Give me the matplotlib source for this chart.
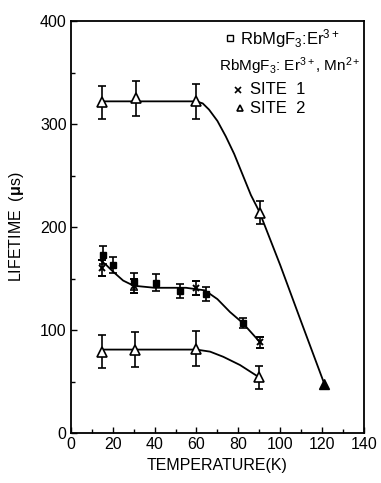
import numpy as np
import matplotlib
matplotlib.use('Agg')
import matplotlib.pyplot as plt

plt.rcParams['font.family'] = ['Liberation Sans', 'DejaVu Sans']
plt.rcParams['mathtext.fontset'] = 'custom'
plt.rcParams['mathtext.rm'] = 'Liberation Sans'
plt.rcParams['mathtext.it'] = 'Liberation Sans:italic'
plt.rcParams['mathtext.bf'] = 'Liberation Sans:bold'

# RbMgF3:Er3+ (squares)
er_T = [15.5, 20.3, 30.3, 40.5, 52.2, 64.6, 82]
er_tau = [173, 163, 147, 146, 138, 135, 107]
er_err = [9, 8, 8, 8, 7, 7, 5]

# RbMgF3:Er3+,Mn2+ site 1 (crosses)
s1_T = [15, 30, 60, 90.4]
s1_tau = [160, 143, 141, 88]
s1_err = [8, 7, 7, 5]

# RbMgF3:Er3+,Mn2+ site 2, long-lived branch (triangles)
s2a_T = [15, 31, 60, 90.5, 121]
s2a_tau = [321, 325, 322, 214, 48]
s2a_err = [16, 17, 17, 11, 0]

# site 2, short-lived branch
s2b_T = [15, 30.5, 60, 90]
s2b_tau = [79, 81, 82, 54]
s2b_err = [16, 17, 17, 11]

# hand-drawn guide curves
fit1_T = [14, 17, 20, 25, 30, 40, 55, 64, 70, 76, 82, 90.4]
fit1_tau = [168, 163, 157, 148, 143, 141, 141, 138.5, 130, 117.5, 107, 88]
fit2a_T = [15, 60, 63, 66, 70, 74, 78, 82, 86, 90, 100, 110, 121]
fit2a_tau = [322, 322, 320, 314, 303, 288, 271, 251, 231, 215, 163, 108, 48]
fit2b_T = [15, 60, 66.5, 72.8, 80.8, 89.6]
fit2b_tau = [81, 81, 79, 74, 66, 54.5]

fig = plt.figure(figsize=(3.81, 4.83), dpi=100)
ax = fig.add_axes([0.1858, 0.1035, 0.7696, 0.853])

ax.plot(fit1_T, fit1_tau, 'k-', lw=1.3)
ax.plot(fit2a_T, fit2a_tau, 'k-', lw=1.3)
ax.plot(fit2b_T, fit2b_tau, 'k-', lw=1.3)

eb = dict(color='k', elinewidth=1.2, capsize=3, capthick=1.2, ls='none')
ax.errorbar(er_T, er_tau, yerr=er_err, marker='s', ms=5, mfc='k', mec='k', **eb)
ax.errorbar(s1_T, s1_tau, yerr=s1_err, marker='x', ms=5, mew=1.4, **eb)
ax.errorbar(s2a_T[:-1], s2a_tau[:-1], yerr=s2a_err[:-1], marker='^', ms=7, mfc='w', mec='k', mew=1.2, **eb)
ax.plot(s2a_T[-1:], s2a_tau[-1:], marker='^', ms=7, mfc='k', mec='k', ls='none')
ax.errorbar(s2b_T, s2b_tau, yerr=s2b_err, marker='^', ms=7, mfc='w', mec='k', mew=1.2, **eb)

ax.set_xlim(0, 140)
ax.set_ylim(0, 400)
ax.set_xticks(np.arange(0, 141, 20))
ax.set_xticks(np.arange(0, 141, 10), minor=True)
ax.set_yticks(np.arange(0, 401, 100))
ax.set_yticks(np.arange(0, 401, 50), minor=True)
ax.tick_params(which='both', direction='in', top=False, right=False, labelsize=11.5, width=1)
ax.tick_params(which='major', length=4, pad=3)
ax.tick_params(which='minor', length=3)
for s in ax.spines.values():
    s.set_linewidth(1.3)

ax.set_xlabel('TEMPERATURE(K)', fontsize=11.5, labelpad=4)
ax.set_ylabel(r'LIFETIME  ($\mathbf{\mu}$s)', fontsize=11.5, labelpad=10)

# key
tr = ax.transAxes
ax.plot([0.543], [0.959], marker='s', ms=4, mfc='w', mec='k', mew=1, transform=tr, clip_on=False)
ax.text(0.577, 0.958, r'RbMgF$_3$:Er$^{3+}$', transform=tr, va='center', ha='left', fontsize=12)
ax.text(0.506, 0.890, r'RbMgF$_3$: Er$^{3+}$, Mn$^{2+}$', transform=tr, va='center', ha='left', fontsize=11)
ax.plot([0.570], [0.8325], marker='x', ms=4, mec='k', mew=1.2, transform=tr)
ax.text(0.611, 0.834, 'SITE  1', transform=tr, va='center', ha='left', fontsize=12)
ax.plot([0.577], [0.789], marker='^', ms=5, mfc='w', mec='k', mew=1.2, transform=tr)
ax.text(0.611, 0.7876, 'SITE  2', transform=tr, va='center', ha='left', fontsize=12)

fig.savefig('out.png', dpi=100)
